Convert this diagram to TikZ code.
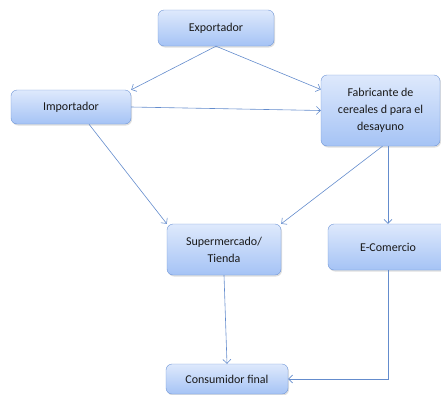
\documentclass[tikz,border=0pt]{standalone}
\usepackage{fontspec}
\setmainfont{Carlito}
\usetikzlibrary{arrows.meta,shadows}
\definecolor{boxtop}{RGB}{222,233,252}
\definecolor{boxbot}{RGB}{165,195,245}
\definecolor{boxline}{RGB}{112,150,214}
\definecolor{arrowblue}{RGB}{100,140,205}
\begin{document}
\begin{tikzpicture}[
    x=1pt, y=-1pt,
    block/.style={rectangle, draw=boxline, rounded corners=6pt, top color=boxtop, bottom color=boxbot,
        drop shadow={shadow xshift=1pt, shadow yshift=-1.5pt, opacity=0.25},
        align=center, font=\fontsize{12}{17}\selectfont, text=black!90, inner sep=2pt},
    arrow/.style={-{Straight Barb[length=4pt,width=8pt]}, draw=arrowblue, line width=0.6pt}
]
\useasboundingbox (0,0) rectangle (441,394);

\node[block, minimum width=116pt, minimum height=36pt] (export) at (216,28) {Exportador};
\node[block, minimum width=120pt, minimum height=34pt] (import) at (71,107) {Importador};
\node[block, minimum width=119pt, minimum height=71pt] (fab) at (380.5,110.5) {Fabricante de\\cereales d para el\\desayuno};
\node[block, minimum width=114pt, minimum height=51pt] (super) at (224,249.5) {Supermercado/\\Tienda};
\node[block, minimum width=120pt, minimum height=46pt] (ecom) at (388,247) {E-Comercio};
\node[block, minimum width=122pt, minimum height=30pt] (cons) at (227,379) {Consumidor final};

\draw[arrow] (export.south) -- (import.north east);
\draw[arrow] (export.south) -- ([yshift=21pt]fab.west);
\draw[arrow] (import.east) -- (fab.west);
\draw[arrow] ([xshift=18pt]import.south) -- (super.north west);
\draw[arrow] ([xshift=2pt]fab.south) -- (super.north east);
\draw[arrow] ([xshift=7.5pt]fab.south) -- (ecom.north);
\draw[arrow] (super.south) -- (cons.north);
\draw[arrow] (ecom.south) |- (cons.east);
\end{tikzpicture}
\end{document}
